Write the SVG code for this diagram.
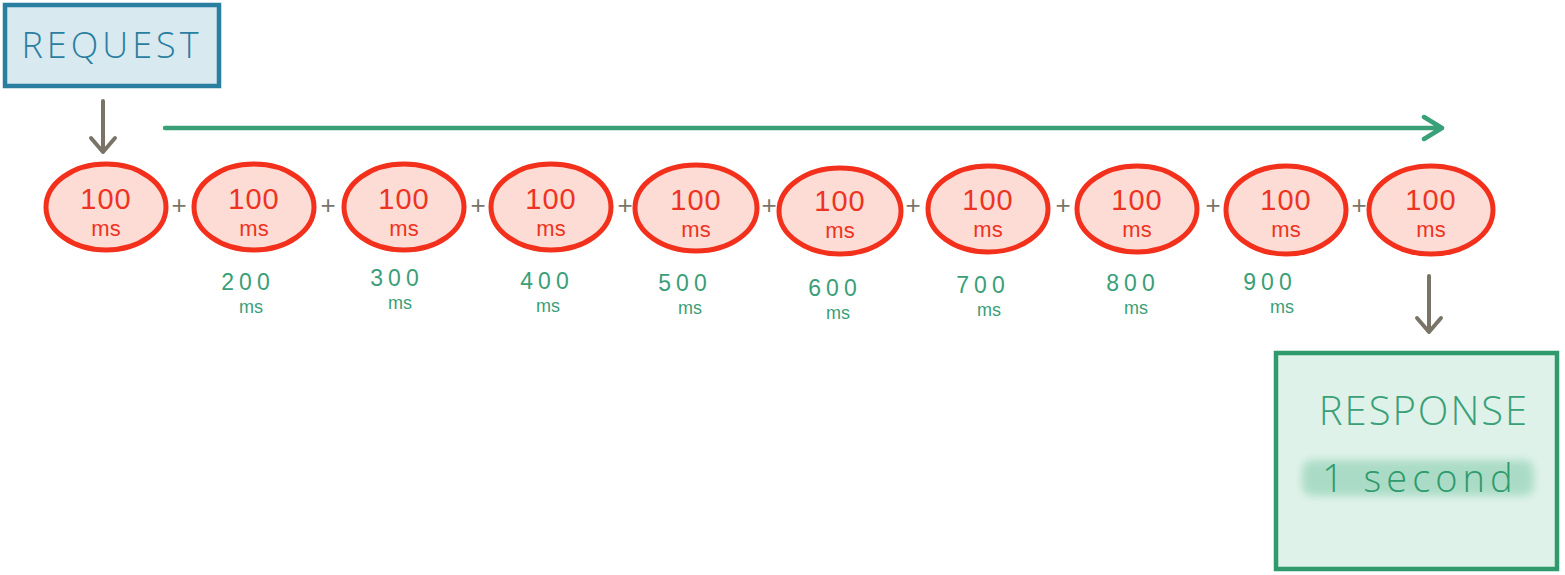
<svg xmlns="http://www.w3.org/2000/svg" width="1565" height="575" viewBox="0 0 1565 575">
<style>
.hand{font-family:"Liberation Sans","Open Sans",sans-serif}
.ell{fill:#fddcd5;stroke:#f2301c;stroke-width:5}
.red{fill:#ee3322;text-anchor:middle}
.n{font-size:29px;letter-spacing:1px}
.ms{font-size:22px}
.plus{fill:#7a7468;font-size:26px;text-anchor:middle}
.grn{fill:#3a9e78;text-anchor:middle}
.gn{font-size:23px;letter-spacing:5px}
.gms{font-size:18px}
.grey{stroke:#7a7468;stroke-width:4;fill:none;stroke-linecap:round;stroke-linejoin:round}
.teal{stroke:#39a078;stroke-width:4.5;fill:none;stroke-linecap:round;stroke-linejoin:round}
</style>
<defs>
<filter id="blur" x="-10%" y="-50%" width="120%" height="200%"><feGaussianBlur stdDeviation="4"/></filter>
</defs>
<rect width="1565" height="575" fill="#ffffff"/>

<g id="request">
<rect x="5" y="5" width="214" height="81" fill="#d8e9f0" stroke="#2a7ea0" stroke-width="4.5"/>
<text x="112" y="58" font-family="Open Sans, Liberation Sans, sans-serif" font-weight="300" font-size="36" letter-spacing="4" fill="#2a7ea0" text-anchor="middle">REQUEST</text>
</g>

<g id="connectors">
<path class="grey" d="M103,101 V152 M91,138 L103,152 L115,138"/>
<path class="teal" d="M165,128 H1442 M1424,117 L1442,128 L1424,139"/>
<path class="grey" d="M1429,276 V332 M1417,318 L1429,332 L1441,318"/>
</g>

<g id="plus">
<text class="hand plus" x="179" y="214">+</text>
<text class="hand plus" x="328" y="214">+</text>
<text class="hand plus" x="478" y="214">+</text>
<text class="hand plus" x="625" y="214">+</text>
<text class="hand plus" x="769" y="214">+</text>
<text class="hand plus" x="913" y="214">+</text>
<text class="hand plus" x="1063" y="214">+</text>
<text class="hand plus" x="1213" y="214">+</text>
<text class="hand plus" x="1359" y="214">+</text>
</g>

<g id="step1"><ellipse class="ell" cx="106" cy="207" rx="60" ry="43"/><text class="hand red n" x="106" y="209">100</text><text class="hand red ms" x="106" y="236">ms</text></g>
<g id="step2"><ellipse class="ell" cx="254" cy="207" rx="60" ry="43"/><text class="hand red n" x="254" y="209">100</text><text class="hand red ms" x="254" y="236">ms</text></g>
<g id="step3"><ellipse class="ell" cx="404" cy="207" rx="60" ry="43"/><text class="hand red n" x="404" y="209">100</text><text class="hand red ms" x="404" y="236">ms</text></g>
<g id="step4"><ellipse class="ell" cx="551" cy="207" rx="60" ry="43"/><text class="hand red n" x="551" y="209">100</text><text class="hand red ms" x="551" y="236">ms</text></g>
<g id="step5"><ellipse class="ell" cx="696" cy="208" rx="61" ry="43"/><text class="hand red n" x="696" y="210">100</text><text class="hand red ms" x="696" y="237">ms</text></g>
<g id="step6"><ellipse class="ell" cx="840" cy="211" rx="61" ry="43"/><text class="hand red n" x="840" y="211">100</text><text class="hand red ms" x="840" y="238">ms</text></g>
<g id="step7"><ellipse class="ell" cx="988" cy="209" rx="60" ry="43"/><text class="hand red n" x="988" y="210">100</text><text class="hand red ms" x="988" y="237">ms</text></g>
<g id="step8"><ellipse class="ell" cx="1137" cy="209" rx="60" ry="43"/><text class="hand red n" x="1137" y="210">100</text><text class="hand red ms" x="1137" y="237">ms</text></g>
<g id="step9"><ellipse class="ell" cx="1286" cy="210" rx="60" ry="44"/><text class="hand red n" x="1286" y="210">100</text><text class="hand red ms" x="1286" y="237">ms</text></g>
<g id="step10"><ellipse class="ell" cx="1431" cy="210" rx="62" ry="44"/><text class="hand red n" x="1431" y="210">100</text><text class="hand red ms" x="1431" y="237">ms</text></g>

<g id="totals">
<text class="hand grn gn" x="248" y="290">200</text><text class="hand grn gms" x="251" y="313">ms</text>
<text class="hand grn gn" x="397" y="286">300</text><text class="hand grn gms" x="400" y="309">ms</text>
<text class="hand grn gn" x="547" y="289">400</text><text class="hand grn gms" x="548" y="312">ms</text>
<text class="hand grn gn" x="685" y="291">500</text><text class="hand grn gms" x="690" y="314">ms</text>
<text class="hand grn gn" x="835" y="296">600</text><text class="hand grn gms" x="838" y="319">ms</text>
<text class="hand grn gn" x="983" y="293">700</text><text class="hand grn gms" x="989" y="316">ms</text>
<text class="hand grn gn" x="1133" y="291">800</text><text class="hand grn gms" x="1136" y="314">ms</text>
<text class="hand grn gn" x="1270" y="290">900</text><text class="hand grn gms" x="1282" y="313">ms</text>
</g>

<g id="response">
<rect x="1276" y="353" width="281" height="216" fill="#dff2ea" stroke="#2f9a6c" stroke-width="4.5"/>
<text x="1424" y="425" font-family="Open Sans, Liberation Sans, sans-serif" font-weight="300" font-size="40" letter-spacing="2" fill="#39a078" text-anchor="middle">RESPONSE</text>
<rect x="1302" y="460" width="232" height="36" rx="10" fill="#8fd0b4" opacity="0.65" filter="url(#blur)"/>
<text x="1322" y="492" font-family="Open Sans, Liberation Sans, sans-serif" font-weight="300" font-size="38" letter-spacing="5" fill="#2f9a6c">1 second</text>
</g>
</svg>
